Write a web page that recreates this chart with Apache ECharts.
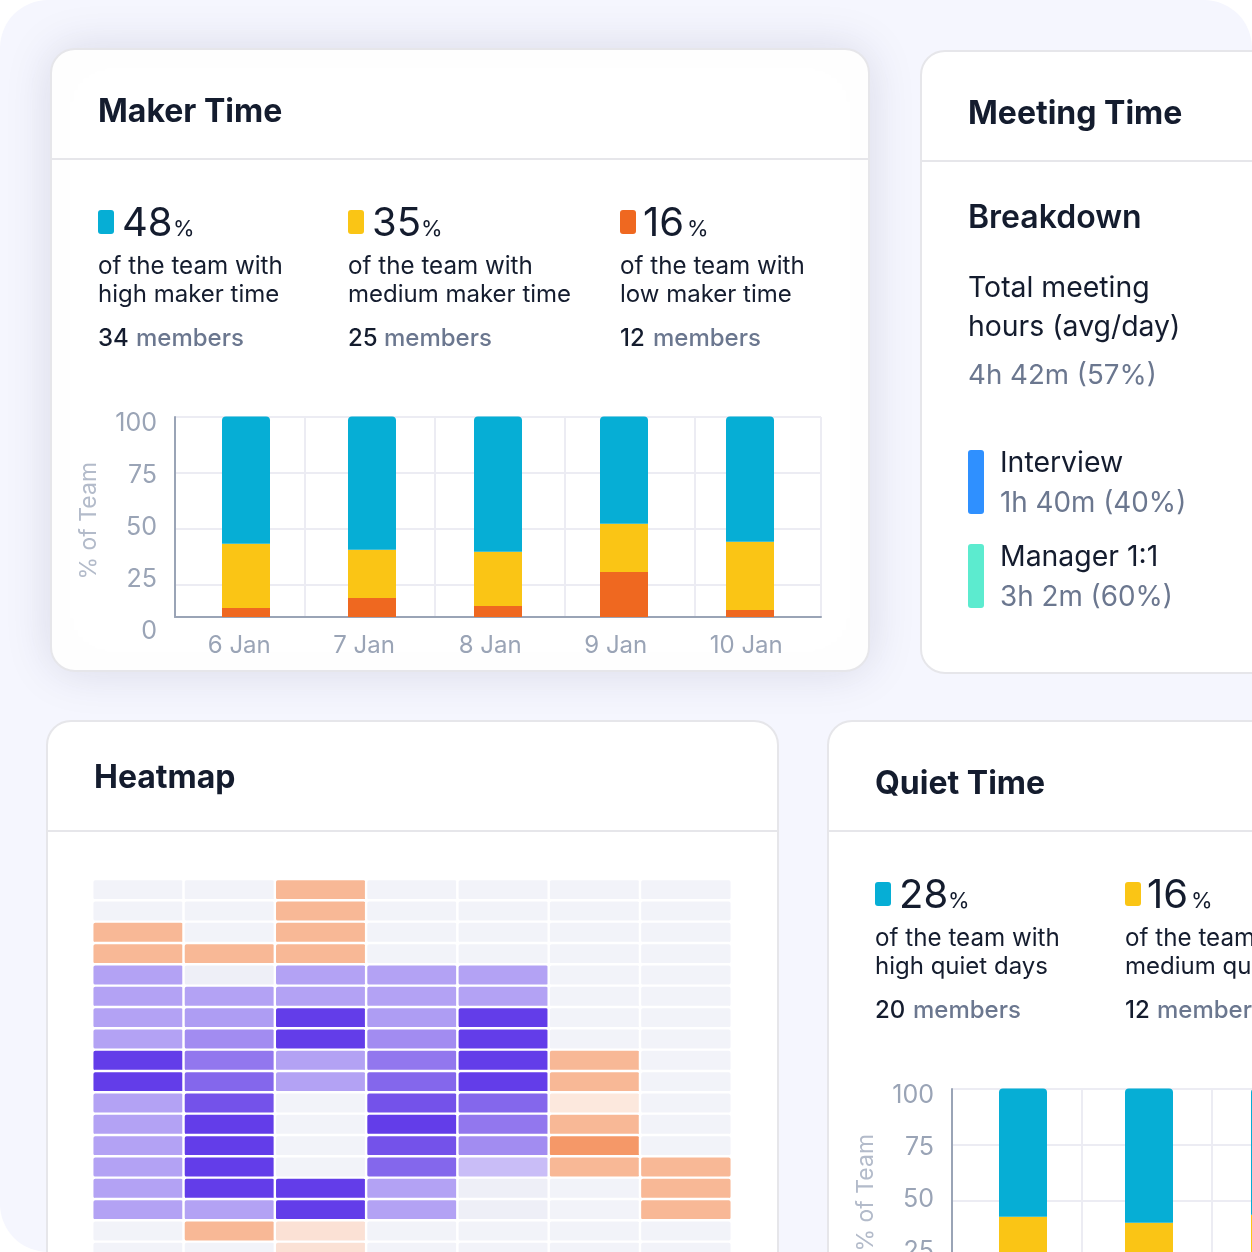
<!DOCTYPE html>
<html>
<head>
<meta charset="utf-8">
<title>Team time dashboard</title>
<script src="https://cdn.jsdelivr.net/npm/echarts@6/dist/echarts.min.js"></script>
<style>
html,body{margin:0;padding:0;background:#fff}
#main{width:1252px;height:1252px}
</style>
</head>
<body>
<div id="main"></div>
<script>
// ---- data ----
var days = ['6 Jan', '7 Jan', '8 Jan', '9 Jan', '10 Jan'];
var yTicks = [0, 25, 50, 75, 100];

var makerLow = [4.5, 9.5, 5.5, 22.5, 3.5];
var makerMedium = [32, 24, 27, 24, 34];
var makerHigh = [63.5, 66.5, 67.5, 53.5, 62.5];

// quiet chart runs off the bottom of the page, only the blue part is really readable
var quietLow = [5, 9, 6, 20, 4];
var quietMedium = [31, 24, 31, 26, 32];
var quietHigh = [64, 67, 63, 54, 64];

var heatCols = ['Mon', 'Tue', 'Wed', 'Thu', 'Fri', 'Sat', 'Sun'];
var heatRows = ['r1', 'r2', 'r3', 'r4', 'r5', 'r6', 'r7', 'r8', 'r9', 'r10', 'r11', 'r12', 'r13', 'r14', 'r15', 'r16', 'r17', 'r18'];
var heatLevels = [
    [0, 0, 12, 0, 0, 0, 0],
    [0, 0, 12, 0, 0, 0, 0],
    [12, 0, 12, 0, 0, 0, 0],
    [12, 12, 12, 0, 0, 0, 0],
    [3, 1, 3, 3, 3, 0, 0],
    [3, 3, 3, 3, 3, 0, 0],
    [3, 4, 9, 4, 9, 0, 0],
    [3, 5, 9, 5, 9, 0, 0],
    [9, 6, 3, 6, 9, 12, 0],
    [9, 7, 3, 7, 9, 12, 0],
    [3, 8, 0, 8, 7, 10, 0],
    [3, 9, 0, 9, 6, 12, 0],
    [3, 9, 0, 8, 5, 13, 0],
    [3, 9, 0, 7, 2, 12, 12],
    [3, 9, 9, 3, 1, 0, 12],
    [3, 3, 9, 3, 1, 0, 12],
    [0, 12, 11, 0, 0, 0, 0],
    [0, 0, 11, 0, 0, 0, 0]
];
var heatColors = ['#F2F3F9', '#EEEFF7', '#C9BDF7', '#B3A2F4', '#AE9DF3', '#A28CF1', '#9277EE', '#8467EC',
    '#7452EA', '#633DE9', '#FCE8DD', '#FBE1D5', '#F8B896', '#F59868'];

// ---- colours / fonts ----
var BLUE = '#06AED5', YELLOW = '#FAC515', ORANGE = '#EF6820';
var DARK = '#141C2E', GRAY = '#6B778F', AXIS = '#9AA4B6', NAME = '#B3BBCA', GRID = '#ECECF3', EDGE = '#E6E6EA';
var FONT = 'Inter';

var grids = [], xAxes = [], yAxes = [], series = [];

function addGrid(left, top, width, height, xAxis, yAxis) {
    // parts of these grids hang over the page edge, so no outer bounds shrinking
    grids.push({left: left, top: top, width: width, height: height, outerBoundsMode: 'none'});
    var idx = grids.length - 1;
    xAxis.gridIndex = idx;
    yAxis.gridIndex = idx;
    xAxes.push(xAxis);
    yAxes.push(yAxis);
    return idx;
}

// stacked chart is made of a few grids laid over each other, the reference's
// gridlines and tick labels do not share one scale
function stackedChart(dx, dy, low, medium, high) {
    var off = {show: false};
    // horizontal gridlines
    addGrid(175 + dx, 417 + dy, 646, 168,
        {type: 'value', show: false},
        {type: 'value', min: 25, max: 100, interval: 25, axisLine: off, axisTick: off, axisLabel: off,
            splitLine: {lineStyle: {color: GRID, width: 2}}});
    // vertical gridlines + axis lines
    addGrid(175 + dx, 417 + dy, 646, 200,
        {type: 'value', min: 0, max: 646 / 130, interval: 1, axisTick: off, axisLabel: off,
            axisLine: {show: true, onZero: false, lineStyle: {color: AXIS, width: 2}},
            splitLine: {show: true, lineStyle: {color: GRID, width: 2}}},
        {type: 'value', min: 0, max: 100, axisTick: off, axisLabel: off, splitLine: off,
            axisLine: {show: true, onZero: false, lineStyle: {color: AXIS, width: 2}}});
    // y tick labels
    addGrid(175 + dx, 423 + dy, 10, 208,
        {type: 'value', show: false},
        {type: 'value', min: yTicks[0], max: yTicks[4], interval: 25, axisLine: off, axisTick: off, splitLine: off,
            axisLabel: {color: AXIS, fontFamily: FONT, fontSize: 25, margin: 18}});
    // x tick labels, left aligned
    addGrid(145 + dx, 617 + dy, 627.5, 2,
        {type: 'category', data: days, axisLine: off, axisTick: off,
            axisLabel: {color: AXIS, fontFamily: FONT, fontSize: 24, margin: 15, align: 'left', interval: 0}},
        {type: 'value', show: false});
    // bars
    var g = addGrid(183 + dx, 416.5 + dy, 630, 200.5,
        {type: 'category', data: days, axisLine: off, axisTick: off, axisLabel: off},
        {type: 'value', min: 0, max: 100, axisLine: off, axisTick: off, axisLabel: off, splitLine: off,
            name: '% of Team', nameLocation: 'middle', nameGap: 82,
            nameTextStyle: {color: NAME, fontFamily: FONT, fontSize: 23, padding: [0, 8, 0, 0]}});
    [[low, ORANGE, 0], [medium, YELLOW, 0], [high, BLUE, 4]].forEach(function (s) {
        series.push({
            type: 'bar', stack: 'team' + g, xAxisIndex: g, yAxisIndex: g, barWidth: 48, data: s[0], silent: true,
            itemStyle: {color: s[1], borderRadius: [s[2], s[2], 0, 0]}
        });
    });
}

stackedChart(0, 0, makerLow, makerMedium, makerHigh);
stackedChart(777, 672, quietLow, quietMedium, quietHigh);

var heatData = [];
heatLevels.forEach(function (row, r) {
    row.forEach(function (v, c) {
        heatData.push([c, r, v]);
    });
});
var heatGrid = addGrid(92.5, 879.2, 639, 384,
    {type: 'category', data: heatCols, show: false},
    {type: 'category', data: heatRows, inverse: true, show: false});
series.push({
    type: 'heatmap', xAxisIndex: heatGrid, yAxisIndex: heatGrid, data: heatData, silent: true,
    itemStyle: {borderColor: '#fff', borderWidth: 2.4, borderRadius: 3}
});

// ---- cards and text ----
var shapes = [];

function card(x, y, w, h, dividerY, shadow) {
    shapes.push({
        type: 'rect', z: -5, shape: {x: x, y: y, width: w, height: h, r: 24},
        style: {fill: '#fff', stroke: EDGE, lineWidth: 2,
            shadowBlur: shadow ? 48 : 0, shadowColor: 'rgba(40,40,90,0.13)'}
    });
    shapes.push({
        type: 'line', z: -4, shape: {x1: x, y1: dividerY, x2: x + w, y2: dividerY},
        style: {stroke: EDGE, lineWidth: 2}
    });
}

function txt(x, baseline, text, size, weight, color) {
    shapes.push({
        type: 'text', z: 20, x: x, y: baseline + size * 0.2,
        style: {text: text, fill: color, fontFamily: FONT, fontSize: size, fontWeight: weight,
            verticalAlign: 'bottom'}
    });
}

function swatch(x, y, w, h, color) {
    shapes.push({type: 'rect', z: 20, shape: {x: x, y: y, width: w, height: h, r: 3}, style: {fill: color}});
}

function stat(x, y, color, pct, numX, pctX, line1, line2, count, memX) {
    swatch(x, y + 210, 16, 24, color);
    txt(numX, y + 236, pct, 40, 400, DARK);
    txt(pctX, y + 236, '%', 22, 400, DARK);
    txt(x, y + 274, line1, 24.2, 400, DARK);
    txt(x, y + 302, line2, 24, 400, DARK);
    txt(x, y + 346, count, 24, 500, DARK);
    txt(memX, y + 346, 'members', 24, 500, GRAY);
}

shapes.push({type: 'rect', z: -10, shape: {x: 0, y: 0, width: 1252, height: 1252, r: 48}, style: {fill: '#F5F6FE'}});
card(51, 49, 818, 622, 159, true);
card(921, 51, 400, 622, 161, false);
card(47, 721, 731, 600, 831, false);
card(828, 721, 500, 600, 831, false);

txt(98, 122, 'Maker Time', 32, 700, DARK);
txt(968, 124, 'Meeting Time', 32, 700, DARK);
txt(94, 788, 'Heatmap', 32, 700, DARK);
txt(875, 794, 'Quiet Time', 32, 700, DARK);

stat(98, 0, BLUE, '48', 122, 173, 'of the team with', 'high maker time', '34', 136);
stat(348, 0, YELLOW, '35', 372, 421, 'of the team with', 'medium maker time', '25', 384);
stat(620, 0, ORANGE, '16', 643, 687, 'of the team with', 'low maker time', '12', 653);
stat(875, 672, BLUE, '28', 899, 948, 'of the team with', 'high quiet days', '20', 913);
stat(1125, 672, YELLOW, '16', 1147, 1191, 'of the team with', 'medium quiet days', '12', 1157);

txt(968, 228, 'Breakdown', 32, 600, DARK);
txt(968, 297, 'Total meeting', 28.4, 400, DARK);
txt(968, 336, 'hours (avg/day)', 28.4, 400, DARK);
txt(968, 384, '4h 42m (57%)', 27.7, 400, GRAY);
swatch(968, 450, 16, 64, '#2F90FF');
txt(1000, 472, 'Interview', 28.4, 400, DARK);
txt(1000, 512, '1h 40m (40%)', 27.8, 400, GRAY);
swatch(968, 544, 16, 64, '#5CEBCF');
txt(1000, 566, 'Manager 1:1', 28.4, 400, DARK);
txt(1000, 606, '3h 2m (60%)', 27.8, 400, GRAY);

var myChart = echarts.init(document.getElementById('main'), null, {renderer: 'canvas'});
var option = {
    animation: false,
    backgroundColor: '#fff',
    graphic: {elements: shapes},
    visualMap: {
        type: 'piecewise', show: false, dimension: 2, seriesIndex: series.length - 1,
        pieces: heatColors.map(function (c, i) { return {value: i, color: c}; })
    },
    grid: grids,
    xAxis: xAxes,
    yAxis: yAxes,
    series: series
};
myChart.setOption(option);
</script>
</body>
</html>
